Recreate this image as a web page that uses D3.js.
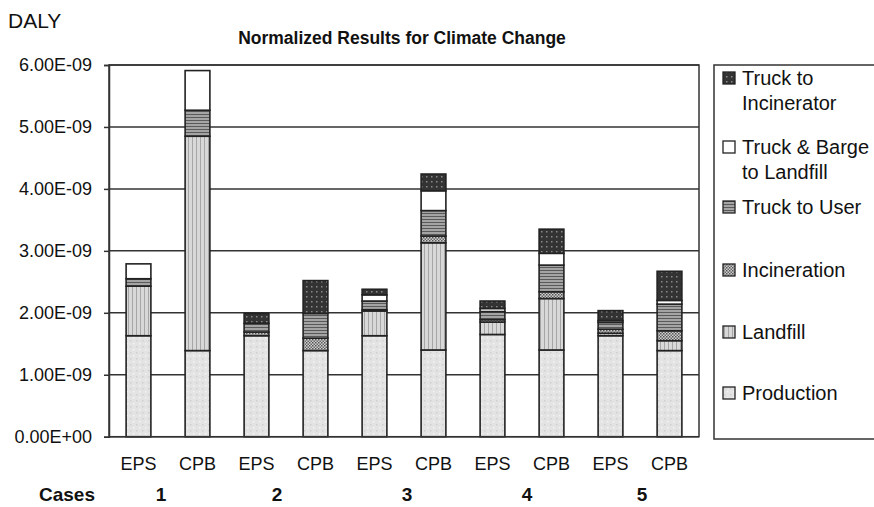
<!DOCTYPE html>
<html>
<head>
<meta charset="utf-8">
<script src="https://cdn.jsdelivr.net/npm/d3@7"></script>
<style>
  html, body { margin: 0; padding: 0; background: #fff; }
  svg { display: block; font-family: "Liberation Sans", Arial, sans-serif; }
</style>
</head>
<body>
<svg id="chart" width="874" height="507"></svg>
<script>
// ---- Data (values in units of 1E-09 DALY) ----
const barTypes = ["EPS","CPB","EPS","CPB","EPS","CPB","EPS","CPB","EPS","CPB"];
const caseLabels = ["1","2","3","4","5"];
const production         = [1.63, 1.39, 1.63, 1.39, 1.63, 1.40, 1.65, 1.40, 1.63, 1.39];
const landfill           = [0.80, 3.46, 0.00, 0.00, 0.40, 1.73, 0.20, 0.83, 0.04, 0.16];
const incineration       = [0.00, 0.00, 0.06, 0.20, 0.02, 0.11, 0.04, 0.11, 0.065, 0.16];
const truckToUser        = [0.12, 0.42, 0.14, 0.40, 0.14, 0.41, 0.13, 0.43, 0.11, 0.43];
const truckBargeLandfill = [0.24, 0.64, 0.00, 0.00, 0.10, 0.32, 0.05, 0.19, 0.03, 0.06];
const truckIncinerator   = [0.00, 0.00, 0.16, 0.53, 0.09, 0.27, 0.12, 0.39, 0.16, 0.47];
const seriesNames = ["Production","Landfill","Incineration","Truck to User","Truck & Barge to Landfill","Truck to Incinerator"];
const yTickValues = [0, 1, 2, 3, 4, 5, 6];
const yTickLabels = ["0.00E+00","1.00E-09","2.00E-09","3.00E-09","4.00E-09","5.00E-09","6.00E-09"];

const seriesData = [production, landfill, incineration, truckToUser, truckBargeLandfill, truckIncinerator];
const rows = barTypes.map((t, i) => {
  const r = { id: i, type: t };
  seriesNames.forEach((s, k) => r[s] = seriesData[k][i] * 1e-9);
  return r;
});

const svg = d3.select("#chart");
const L = 109, R = 699, T = 65, B = 436.7;

// ---- Patterns ----
const defs = svg.append("defs");
function pat(id, w, h, draw) {
  const p = defs.append("pattern").attr("id", id).attr("patternUnits", "userSpaceOnUse")
    .attr("width", w).attr("height", h);
  draw(p);
}
pat("p-prod", 6, 6, p => {
  p.append("rect").attr("width", 6).attr("height", 6).attr("fill", "#e3e3e3");
  p.append("rect").attr("x", 1).attr("y", 1).attr("width", 1.5).attr("height", 1.5).attr("fill", "#f4f4f4");
  p.append("rect").attr("x", 4).attr("y", 4).attr("width", 1.5).attr("height", 1.5).attr("fill", "#cfcfcf");
});
pat("p-land", 4, 4, p => {
  p.append("rect").attr("width", 4).attr("height", 4).attr("fill", "#d8d8d8");
  p.append("rect").attr("x", 0).attr("width", 1).attr("height", 4).attr("fill", "#a6a6a6");
});
pat("p-inc", 3, 3, p => {
  p.append("rect").attr("width", 3).attr("height", 3).attr("fill", "#d0d0d0");
  p.append("rect").attr("x", 0).attr("y", 0).attr("width", 1.5).attr("height", 1.5).attr("fill", "#555");
  p.append("rect").attr("x", 1.5).attr("y", 1.5).attr("width", 1.5).attr("height", 1.5).attr("fill", "#666");
});
pat("p-ttu", 4, 3, p => {
  p.append("rect").attr("width", 4).attr("height", 3).attr("fill", "#a4a4a4");
  p.append("rect").attr("y", 0).attr("width", 4).attr("height", 1).attr("fill", "#5a5a5a");
});
pat("p-tbl", 4, 4, p => {
  p.append("rect").attr("width", 4).attr("height", 4).attr("fill", "#ffffff");
});
pat("p-tti", 5, 5, p => {
  p.append("rect").attr("width", 5).attr("height", 5).attr("fill", "#333");
  p.append("rect").attr("x", 1).attr("y", 1).attr("width", 1.5).attr("height", 1.5).attr("fill", "#8a8a8a");
});
const fills = ["url(#p-prod)","url(#p-land)","url(#p-inc)","url(#p-ttu)","url(#p-tbl)","url(#p-tti)"];

// ---- Scales ----
const x = d3.scaleBand().domain(rows.map(r => r.id)).range([L, R]).paddingInner(0.58).paddingOuter(0.29);
const y = d3.scaleLinear().domain([0, 6e-9]).range([B, T]);

// ---- Gridlines ----
svg.append("g").selectAll("line").data(yTickValues.filter(v => v > 0)).join("line")
  .attr("x1", L).attr("x2", R)
  .attr("y1", v => y(v * 1e-9)).attr("y2", v => y(v * 1e-9))
  .attr("stroke", "#333").attr("stroke-width", 1.5);

// plot frame (top/right)
svg.append("rect").attr("x", L).attr("y", T).attr("width", R - L).attr("height", B - T)
  .attr("fill", "none").attr("stroke", "#333").attr("stroke-width", 1.5);

// ---- Y axis ----
const yAxis = d3.axisLeft(y).tickValues(yTickValues.map(v => v * 1e-9))
  .tickFormat((d, i) => yTickLabels[i]).tickSize(5).tickPadding(12);
const yg = svg.append("g").attr("transform", `translate(${L},0)`).call(yAxis);
yg.select(".domain").attr("stroke", "#333").attr("stroke-width", 1.5);
yg.selectAll(".tick line").attr("stroke", "#333").attr("stroke-width", 1.5);
yg.selectAll(".tick text").attr("font-size", 18).attr("fill", "#111")
  .attr("font-family", "'Liberation Sans', Arial, sans-serif");

// ---- Stacked bars ----
const stack = d3.stack().keys(seriesNames);
const stacked = stack(rows);
svg.append("g").selectAll("g").data(stacked).join("g")
  .attr("fill", (d, i) => fills[i])
  .selectAll("rect").data(d => d.filter(s => s[1] - s[0] > 0)).join("rect")
  .attr("x", d => x(d.data.id))
  .attr("width", x.bandwidth())
  .attr("y", d => y(d[1]))
  .attr("height", d => y(d[0]) - y(d[1]))
  .attr("stroke", "#222").attr("stroke-width", 1.6);

// baseline redraw
svg.append("line").attr("x1", L).attr("x2", R).attr("y1", B).attr("y2", B)
  .attr("stroke", "#333").attr("stroke-width", 1.5);

// ---- X labels ----
svg.append("g").selectAll("text").data(rows).join("text")
  .attr("x", d => x(d.id) + x.bandwidth() / 2)
  .attr("y", 470)
  .attr("text-anchor", "middle").attr("font-size", 18).attr("fill", "#111")
  .text(d => d.type);

svg.append("text").attr("x", 67).attr("y", 501).attr("text-anchor", "middle")
  .attr("font-size", 19).attr("font-weight", "bold").attr("fill", "#111").text("Cases");
const caseOffsets = [-7, -9, 3, 5, 2];
svg.append("g").selectAll("text").data(caseLabels).join("text")
  .attr("x", (d, i) => (x(i * 2) + x(i * 2 + 1) + x.bandwidth()) / 2 + caseOffsets[i])
  .attr("y", 501).attr("text-anchor", "middle")
  .attr("font-size", 19).attr("font-weight", "bold").attr("fill", "#111").text(d => d);

// ---- Titles ----
svg.append("text").attr("x", 8).attr("y", 28).attr("font-size", 21).attr("fill", "#111").text("DALY");
svg.append("text").attr("x", 402).attr("y", 44).attr("text-anchor", "middle")
  .attr("font-size", 17.5).attr("font-weight", "bold").attr("fill", "#111")
  .text("Normalized Results for Climate Change");

// ---- Legend ----
svg.append("rect").attr("x", 714).attr("y", 65).attr("width", 200).attr("height", 374)
  .attr("fill", "#fff").attr("stroke", "#333").attr("stroke-width", 1.5);
const legendItems = [
  { k: 5, lines: ["Truck to", "Incinerator"], y: 78 },
  { k: 4, lines: ["Truck & Barge", "to Landfill"], y: 147 },
  { k: 3, lines: ["Truck to User"], y: 207 },
  { k: 2, lines: ["Incineration"], y: 270 },
  { k: 1, lines: ["Landfill"], y: 332 },
  { k: 0, lines: ["Production"], y: 393 }
];
const lg = svg.append("g").selectAll("g").data(legendItems).join("g");
lg.append("rect").attr("x", 723).attr("y", d => d.y - 6).attr("width", 12).attr("height", 12)
  .attr("fill", d => fills[d.k]).attr("stroke", "#222").attr("stroke-width", 1.3);
lg.each(function(d) {
  d3.select(this).selectAll("text").data(d.lines).join("text")
    .attr("x", 742).attr("y", (t, j) => d.y + 7 + j * 25)
    .attr("font-size", 20).attr("fill", "#111").text(t => t);
});
</script>
</body>
</html>
